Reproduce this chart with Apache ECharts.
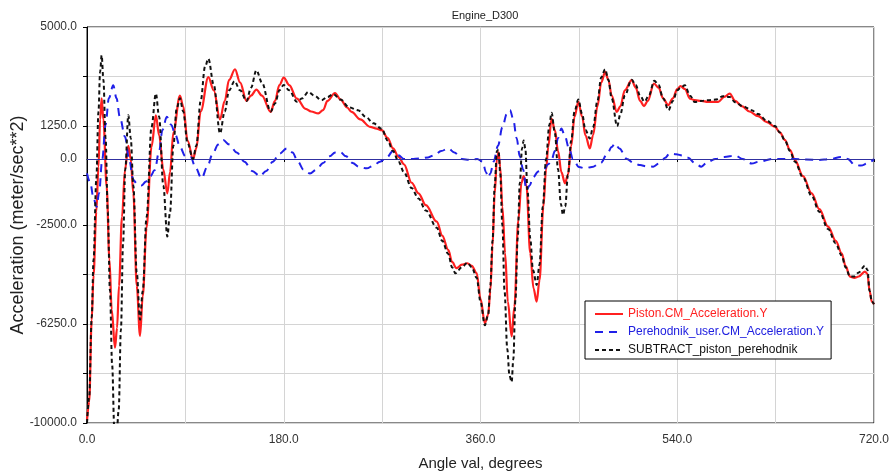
<!DOCTYPE html>
<html><head><meta charset="utf-8">
<script src="https://cdn.jsdelivr.net/npm/echarts@6/dist/echarts.min.js"></script>
<style>html,body{margin:0;padding:0;background:#fff}#c{width:889px;height:472px}</style>
</head><body><div id="c"></div>
<script>
const chartTitle = 'Engine_D300';
const seriesNames = ['Piston.CM_Acceleration.Y', 'Perehodnik_user.CM_Acceleration.Y', 'SUBTRACT_piston_perehodnik'];

const pistonAngle = [0,2,4.3,6,8.5,10.5,12,13.4,15,18,20.5,22.6,25.6,27.5,29.3,32,34.8,37.8,40,42.4,45.5,48.5,51,54.5,59,63,66,69.8,73.5,76,79,85,88,92,97,100,104,111,116,121.7,126,130,135.4,140,146,150,155,160,168,172,176,180,185,192,200,205,211.6,216,220,226.9,232,238,242,250,259,265,269.6,275,280,285,290,297,303.3,310,320,325,330.5,334,338,343,348,352,356.5,360,364,367,369,371,373,375,376.5,378,380,382.5,385,388.5,391,394.6,397.5,399.5,402,405.5,408.5,411.4,414,417.5,420,422,425,428,431,434,437.3,440,443,446,449.5,453,456,460,463,467,470.5,474,477,480,484.7,488,492,498.3,502,506,509.6,513,518.7,523,527,531.8,536,540,543,547,551.7,556,562,568,577.5,583,588,593,599,606,614,622,629.4,634,638.6,643,647.7,655,663,670,678,685,690.4,694,698,702,706,711.7,714,716,718,720];
const pistonAccel = [-9900,-9200,-6100,-4400,-2000,-300,1500,2300,1500,-1050,-3800,-5700,-7150,-6400,-4800,-2200,-400,500,0,-1300,-4800,-6700,-5200,-2600,460,1650,900,-400,-1300,-500,1000,2400,2000,700,0,400,1800,3100,2600,1500,2200,3000,3400,2900,2200,2400,2630,2400,1785,2200,2800,3086,2800,2290,1900,1800,1725,1850,2200,2500,2250,1950,1785,1500,1218,1150,1093,800,400,83,-200,-900,-1300,-1750,-2375,-2900,-3445,-3900,-4137,-4000,-3948,-4050,-4326,-5300,-6218,-5900,-5000,-3300,-1300,0,250,-300,-1800,-3560,-5400,-6724,-5600,-2310,-900,-650,-1000,-3560,-4900,-5400,-4600,-1808,-400,460,1535,1100,300,-500,-920,-600,500,1600,2164,1600,900,400,900,2000,2900,3298,3000,2400,1785,2000,2600,2984,2700,2200,2000,2200,2860,2700,2300,2040,2300,2650,2757,2650,2290,2228,2200,2164,2164,2350,2480,2200,2000,1800,1623,1400,1218,1000,715,350,-41,-650,-1300,-1900,-2560,-3100,-3570,-4050,-4455,-4500,-4450,-4265,-4350,-5000,-5400,-5500];

const perehodnikAngle = [0,3,6,8.8,11,14,17,20,24,27,30,34.8,38.5,42.4,46,50,54,58,62,66,69,73,77,81,85,90,95,99,104.8,110,115,120,124.7,130,137,144,151,158.3,164,170,176,182.7,188,193,198,204,210,216,222,227,231.5,237,243,249,256,262,268,274,280,285,290,297,304,312,318,324,330.5,336,343,350,357,362,365,367,369,372,376,380,384,387,390,393,396,399,402,405,408,412.8,418,422,425,428,431,434,437,441,444.6,450,455.6,462,470,476,480,483,487,494,500,506,512,518,524,529,533,539,545,550,556,562,568,575,583,593,600,608,615,627,638,648,658,669,680,690,696,702.6,708,715,720];
const perehodnikAccel = [-545,-900,-1500,-1808,-1300,0,1300,2300,2795,2300,1600,840,0,-800,-950,-1000,-850,-650,-420,300,1100,1596,1300,900,460,100,70,-300,-733,-300,200,550,715,550,250,-100,-450,-647,-450,-100,200,401,250,-100,-400,-545,-400,-150,100,250,272,100,-150,-300,-355,-250,-100,50,300,140,0,0,20,60,150,300,401,250,0,-30,0,-100,-500,-700,-545,-100,500,1200,1700,1860,1500,800,100,-400,-1176,-1000,-700,-470,-400,-200,-40,300,800,1157,900,400,0,-300,-355,-300,-150,200,450,590,400,0,-150,-230,-280,-290,-150,50,207,180,130,50,-150,-290,-100,0,80,130,0,-170,-100,0,0,0,-20,-40,0,80,0,-230,-250,-150,0];

const subtractAngle = [0,2,4.3,6,8.5,10.5,12,13.4,15,17,19,21,23,25,27,29,31,33,35,37.8,40,42.4,45.5,48.5,51,54.5,59,63,66,69.8,73.5,76,79,82,85,88,92,97,100,104,108,111,116,121.7,126,130,135,140,146,150,155,160,168,172,176,180,185,192,197,202.5,208,214.6,220,225.3,232,240,248,255,262,269.6,275,280,285,290,297,303.3,310,320,325,330.5,334,337,343,348,352,356.5,360,364,367,369,371,373,375,376.5,378,380,382,384.5,386.5,388.5,390,392,394,396,398,399.5,401,403,405.5,408,411.4,414,417,420,423,425,428,431,433.5,435.5,437.5,440,443,446,449.5,453,456,460,463,467,470.5,474,477,480,485,488,492,498.3,502,506,510,514,519,523,527,532,536,540,543,547,551.7,556,562,568,575,582,588,593,600,608,614,622,629.4,634,638.6,643,647.7,655,663,670,678,685,690.4,694,698,702,706,711.7,714,716,718,720];
const subtractAccel = [-10000,-9000,-6000,-3800,-800,1800,3300,3930,3000,800,-2000,-5000,-7800,-10200,-10500,-9500,-6500,-3200,-400,1660,800,-1000,-4300,-6090,-5000,-2200,1200,2480,1600,-1000,-2940,-2000,500,1900,2300,1800,600,0,500,2200,3500,3800,2800,970,1800,2600,2950,2600,2200,2700,3360,2900,1800,2100,2600,2800,2600,2170,2300,2542,2400,2228,2350,2455,2250,1950,1850,1600,1350,1150,700,300,-100,-500,-1100,-1500,-1950,-2600,-3100,-3600,-4100,-4330,-4100,-3930,-4100,-4500,-5400,-6300,-5900,-4800,-3100,-1000,300,350,-500,-2500,-5000,-7200,-8200,-8450,-7600,-5300,-3000,-900,400,700,400,-1200,-3000,-4200,-4770,-4000,-1800,0,1300,1750,1000,-400,-1700,-2120,-1800,-600,700,1800,2250,1700,1100,780,1200,2200,3100,3400,3000,2300,1245,1700,2400,3000,2800,2400,2170,2400,2960,2800,2300,1850,2200,2600,2700,2790,2400,2160,2200,2230,2250,2380,2350,2150,2000,1850,1700,1450,1250,1000,700,300,-100,-700,-1400,-2000,-2650,-3200,-3650,-4100,-4450,-4450,-4300,-4040,-4200,-5000,-5400,-5500];

const xMin = 0, xMax = 720, xStep = 90;
const yMin = -10000, yMax = 5000, yStep = 1875;

function zip(a, b) { return a.map((x, i) => [x, b[i]]); }

const chart = echarts.init(document.getElementById('c'), null, {renderer: 'canvas'});
const font = 'Liberation Sans, Arial, sans-serif';
chart.setOption({
  backgroundColor: '#fff',
  animation: false,
  title: {text: chartTitle, left: 480, top: 5, textAlign: 'center',
    textStyle: {fontSize: 11, fontWeight: 'normal', color: '#222', fontFamily: font}},
  grid: {left: 87, right: 15, top: 27, bottom: 49, containLabel: false, outerBoundsMode: 'none',
    show: true, borderColor: '#111', borderWidth: 1, backgroundColor: '#fff'},
  legend: {
    orient: 'vertical', left: 585, top: 301, width: 244,
    backgroundColor: '#fff', borderColor: '#000', borderWidth: 1,
    padding: [7, 7, 3, 9], itemWidth: 28, itemHeight: 12, itemGap: 6,
    itemStyle: {opacity: 0},
    textStyle: {fontSize: 12, fontFamily: font},
    data: [
      {name: seriesNames[0], textStyle: {color: '#ff2020'}},
      {name: seriesNames[1], textStyle: {color: '#2020e0'}},
      {name: seriesNames[2], textStyle: {color: '#111'}}
    ]
  },
  xAxis: {
    type: 'value', min: xMin, max: xMax, interval: xStep,
    name: 'Angle val, degrees', nameLocation: 'middle', nameGap: 33, nameMoveOverlap: false,
    nameTextStyle: {fontSize: 15, color: '#222', fontFamily: font},
    axisLine: {lineStyle: {color: '#000', width: 1}},
    axisTick: {show: true, length: 3, lineStyle: {color: '#000'}},
    axisLabel: {fontSize: 12, color: '#333', fontFamily: font, margin: 11,
      formatter: v => (v % 180 === 0 ? v.toFixed(1) : '')},
    splitLine: {show: true, lineStyle: {color: '#d4d4d4', width: 1}}
  },
  yAxis: [
    {
      type: 'value', min: yMin, max: yMax, interval: 5000, position: 'left',
      axisLine: {show: false}, axisTick: {show: false}, splitLine: {show: false},
      axisLabel: {fontSize: 12, color: '#333', fontFamily: font, margin: 10,
        formatter: v => (v === 0 ? '0.0' : '')}
    },
    {
      type: 'value', min: 0, max: yMax - yMin, interval: yStep, position: 'left',
      name: 'Acceleration (meter/sec**2)', nameLocation: 'middle', nameGap: 60, nameMoveOverlap: false,
      nameTextStyle: {fontSize: 18, color: '#222', fontFamily: font},
      axisLine: {show: true, lineStyle: {color: '#000', width: 1}},
      axisTick: {show: true, length: 4, lineStyle: {color: '#000'}},
      splitLine: {show: true, lineStyle: {color: '#d4d4d4', width: 1}},
      axisLabel: {fontSize: 12, color: '#333', fontFamily: font, margin: 10,
        formatter: v => (v % (2 * yStep) === 0 ? (v + yMin).toFixed(1) : '')}
    }
  ],
  series: [
    {
      name: seriesNames[0], type: 'line', yAxisIndex: 0, data: zip(pistonAngle, pistonAccel),
      symbol: 'none', smooth: 0.35, smoothMonotone: 'x',
      lineStyle: {color: '#ff2020', width: 2.2}, itemStyle: {color: '#ff2020'}, z: 3
    },
    {
      name: seriesNames[1], type: 'line', yAxisIndex: 0, data: zip(perehodnikAngle, perehodnikAccel),
      symbol: 'none', smooth: 0.35, smoothMonotone: 'x',
      lineStyle: {color: '#2020e8', width: 2, type: [8, 6]}, itemStyle: {color: '#2020e8'}, z: 4,
      markLine: {silent: true, symbol: 'none', label: {show: false},
        lineStyle: {color: '#3030a0', width: 1, type: 'solid'}, data: [{yAxis: 0}]}
    },
    {
      name: seriesNames[2], type: 'line', yAxisIndex: 0, data: zip(subtractAngle, subtractAccel),
      symbol: 'none', smooth: 0.35, smoothMonotone: 'x',
      lineStyle: {color: '#111', width: 2, type: [4, 3]}, itemStyle: {color: '#111'}, z: 5
    }
  ]
});
</script></body></html>
